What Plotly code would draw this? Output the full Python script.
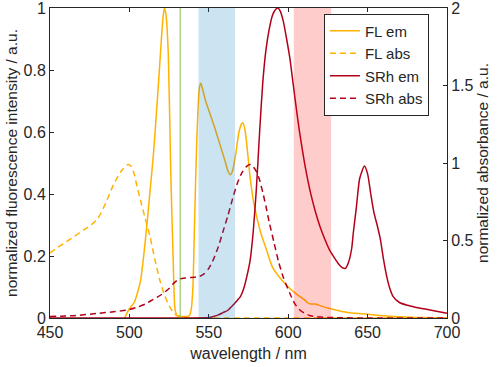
import plotly.graph_objects as go

# ---------------- data ----------------
fl_em_wl = [497, 500, 503, 505, 507, 509, 511, 513, 515, 517, 519, 521, 522, 523, 524.5, 526, 527.5, 528.7,
            530, 532, 535, 537, 538, 539, 540, 541, 542, 543, 544, 545, 546, 548, 551, 554, 557, 560, 562,
            563.5, 565, 567, 569, 570.5, 571.5, 573, 574.5, 576, 578, 580, 583, 586, 590, 595, 600, 605,
            610, 612, 614, 617, 620, 625, 630, 635, 640, 650, 660, 670, 680, 690, 700]
fl_em = [0.0, 0.03, 0.05, 0.08, 0.12, 0.2, 0.3, 0.41, 0.52, 0.66, 0.81, 0.96, 1.0, 0.98, 0.85, 0.48, 0.2, 0.03,
         0.008, 0.005, 0.005, 0.006, 0.01, 0.03, 0.1, 0.3, 0.5, 0.65, 0.74, 0.757, 0.74, 0.7, 0.655, 0.61,
         0.56, 0.51, 0.475, 0.462, 0.475, 0.53, 0.6, 0.625, 0.63, 0.6, 0.53, 0.455, 0.38, 0.33, 0.27, 0.225,
         0.165, 0.128, 0.1, 0.078, 0.06, 0.05, 0.045, 0.045, 0.04, 0.032, 0.026, 0.02, 0.016, 0.012, 0.007,
         0.004, 0.002, 0.001, 0.001]

fl_abs_wl = [450, 455, 460, 465, 470, 475, 480, 485, 490, 495, 499, 501, 503, 505, 507, 510, 513, 516, 519,
             522, 525, 528, 531, 535, 550, 600, 650, 700]
fl_abs = [0.21, 0.228, 0.245, 0.262, 0.28, 0.297, 0.32, 0.37, 0.43, 0.475, 0.495, 0.49, 0.465, 0.42, 0.38,
          0.32, 0.262, 0.19, 0.125, 0.075, 0.04, 0.015, 0.004, 0.001, 0.0, 0.0, 0.0, 0.0]

srh_em_wl = [450, 500, 540, 550, 553, 556, 559, 562, 565, 568, 570, 572, 574, 576, 578, 580, 582, 584, 586,
             588, 590, 592, 593.5, 595, 597, 599, 601, 603, 605, 607, 609, 611, 614, 617, 620, 623, 626, 629,
             632, 634, 636, 638, 640, 641, 643, 645, 648, 650, 652, 654, 656, 658, 660, 662, 664, 666, 670,
             675, 680, 687, 695, 700]
srh_em = [0.0, 0.0, 0.0, 0.003, 0.01, 0.02, 0.035, 0.05, 0.08, 0.115, 0.14, 0.19, 0.27, 0.37, 0.56, 0.84,
          1.2, 1.52, 1.73, 1.86, 1.95, 1.99, 2.0, 1.98, 1.91, 1.8, 1.68, 1.52, 1.36, 1.21, 1.08, 0.96, 0.81,
          0.69, 0.59, 0.51, 0.44, 0.39, 0.345, 0.325, 0.32, 0.36, 0.45, 0.55, 0.72, 0.9, 0.98, 0.93, 0.8, 0.68,
          0.6, 0.51, 0.38, 0.27, 0.19, 0.14, 0.1, 0.082, 0.07, 0.056, 0.04, 0.03]

srh_abs_wl = [450, 465, 480, 490, 498, 505, 510, 515, 520, 525, 528, 531, 535, 540, 544, 547, 550, 553, 556,
              559, 562, 565, 568, 571, 574, 576, 578, 580, 582, 584, 586, 588, 591, 594, 597, 601, 604, 607,
              610, 614, 620, 630, 650, 700]
srh_abs = [0.01, 0.015, 0.03, 0.04, 0.05, 0.07, 0.09, 0.12, 0.15, 0.19, 0.225, 0.25, 0.258, 0.262, 0.268,
           0.285, 0.32, 0.38, 0.46, 0.56, 0.66, 0.77, 0.87, 0.94, 0.98, 0.99, 0.975, 0.945, 0.89, 0.81, 0.72,
           0.62, 0.49, 0.36, 0.26, 0.16, 0.095, 0.055, 0.032, 0.015, 0.006, 0.002, 0.0, 0.0]

laser_line = 532
blue_band = [543.5, 566.5]
red_band = [603.5, 627.0]

x_ticks = [450, 500, 550, 600, 650, 700]
y_ticks = [0, 0.2, 0.4, 0.6, 0.8, 1]
y_labels = ["0", "0.2", "0.4", "0.6", "0.8", "1"]
y2_ticks = [0, 0.5, 1, 1.5, 2]
y2_labels = ["0", "0.5", "1", "1.5", "2"]

# ---------------- styles ----------------
ORANGE = "rgb(255,178,0)"
DARKRED = "rgb(178,0,26)"
AXC = "#262626"
FONT = "Liberation Sans, Arial, sans-serif"

fig = go.Figure()
fig.add_trace(go.Scatter(x=fl_em_wl, y=fl_em, name="FL em", mode="lines",
                         line=dict(color=ORANGE, width=1.5, shape="spline", smoothing=0.6)))
fig.add_trace(go.Scatter(x=fl_abs_wl, y=fl_abs, name="FL abs", mode="lines",
                         line=dict(color=ORANGE, width=1.5, dash="6px,4px", shape="spline", smoothing=0.6)))
fig.add_trace(go.Scatter(x=srh_em_wl, y=srh_em, name="SRh em", mode="lines", yaxis="y2",
                         line=dict(color=DARKRED, width=1.5, shape="spline", smoothing=0.6)))
fig.add_trace(go.Scatter(x=srh_abs_wl, y=srh_abs, name="SRh abs", mode="lines", yaxis="y2",
                         line=dict(color=DARKRED, width=1.5, dash="6px,4px", shape="spline", smoothing=0.6)))

shapes = [
    dict(type="line", xref="x", yref="paper", x0=laser_line, x1=laser_line, y0=0, y1=1,
         line=dict(color="rgba(119,180,60,0.6)", width=1.5), layer="above"),
    dict(type="rect", xref="x", yref="paper", x0=blue_band[0], x1=blue_band[1], y0=0, y1=1,
         fillcolor="rgba(0,114,189,0.2)", line=dict(width=0), layer="above"),
    dict(type="rect", xref="x", yref="paper", x0=red_band[0], x1=red_band[1], y0=0, y1=1,
         fillcolor="rgba(255,0,0,0.2)", line=dict(width=0), layer="above"),
]

fig.update_layout(
    width=498, height=367,
    margin=dict(l=50, r=51, t=8, b=49, autoexpand=False),
    paper_bgcolor="white", plot_bgcolor="white",
    font=dict(family=FONT, size=16, color=AXC),
    shapes=shapes,
    showlegend=True,
    legend=dict(x=0.69, y=0.982, xanchor="left", yanchor="top",
                bgcolor="white", bordercolor=AXC, borderwidth=1,
                font=dict(size=15, color=AXC), tracegroupgap=0, itemwidth=30),
    xaxis=dict(range=[450, 700], tickvals=x_ticks, ticks="inside", ticklen=4, tickcolor=AXC,
               showline=True, linecolor=AXC, linewidth=1, mirror="ticks", showgrid=False, zeroline=False,
               automargin=False, ticklabeloverflow="allow",
               title=dict(text="wavelength / nm", font=dict(size=16), standoff=7),
               tickfont=dict(size=16)),
    yaxis=dict(range=[0, 1], tickvals=y_ticks, ticktext=y_labels,
               ticks="inside", ticklen=4, tickcolor=AXC, automargin=False, ticklabeloverflow="allow",
               showline=True, linecolor=AXC, linewidth=1, showgrid=False, zeroline=False,
               title=dict(text="normalized fluorescence intensity / a.u.", font=dict(size=15.5), standoff=2),
               tickfont=dict(size=16)),
    yaxis2=dict(range=[0, 2], tickvals=y2_ticks, ticktext=y2_labels,
                overlaying="y", side="right", automargin=False, ticklabeloverflow="allow",
                ticks="inside", ticklen=4, tickcolor=AXC,
                showline=True, linecolor=AXC, linewidth=1, showgrid=False, zeroline=False,
                title=dict(text="normalized absorbance / a.u.", font=dict(size=15.5), standoff=4),
                tickfont=dict(size=16)),
)

fig.write_html("out.html", config={"displayModeBar": False},
               post_script="document.body.style.margin='0';document.body.style.padding='0';")
